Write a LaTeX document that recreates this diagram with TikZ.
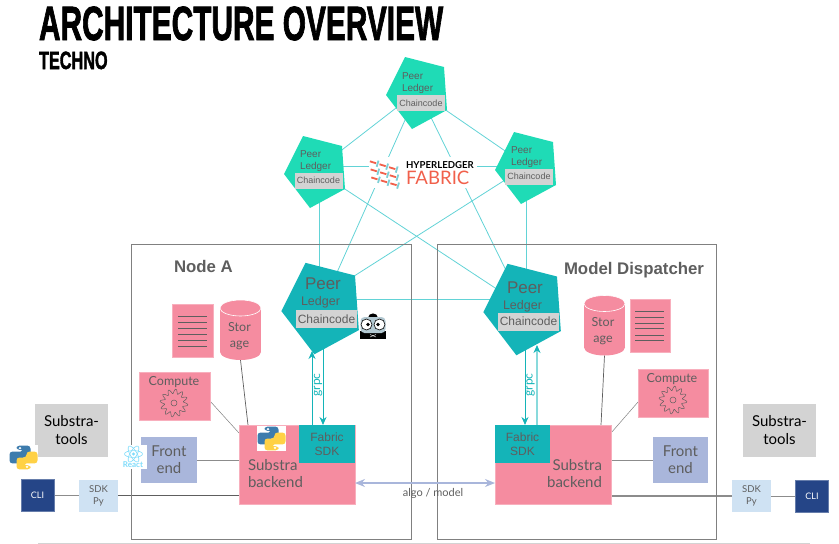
\documentclass[tikz,border=0pt]{standalone}
\usepackage{fontspec}
\setmainfont{Lato}
\newfontfamily\arialfont{Liberation Sans}
\newfontfamily\titlefont[FakeBold=2]{Liberation Sans}
\usepackage{tikz}
\usetikzlibrary{arrows.meta,backgrounds}
\definecolor{peerlight}{HTML}{1FDBB6}
\definecolor{peerdark}{HTML}{14B4B8}
\definecolor{meshline}{HTML}{62D3D6}
\definecolor{pinkbox}{HTML}{F58CA0}
\definecolor{frontblue}{HTML}{A9B6DB}
\definecolor{cliblue}{HTML}{254587}
\definecolor{sdkblue}{HTML}{CFE2F3}
\definecolor{toolgrey}{HTML}{D3D3D3}
\definecolor{inktext}{HTML}{5E5E5E}
\definecolor{pyblue}{HTML}{3D7CAD}
\definecolor{pyyellow}{HTML}{FFD145}
\definecolor{reactblue}{HTML}{7FDCFB}
\definecolor{fabricred}{HTML}{F1604B}
\definecolor{fabricteal}{HTML}{7CCFD6}
\tikzset{
  anybox/.style={inner sep=0pt,outer sep=0pt,align=center,text=inktext},
  frame/.style={anybox,draw=gray,line width=1pt},
  pink/.style={anybox,fill=pinkbox,draw=pinkbox!70!white,line width=.5pt},
  front/.style={anybox,fill=frontblue,font=\fontsize{15}{17}\selectfont,minimum width=56,minimum height=46},
  tools/.style={anybox,fill=toolgrey,text=black,font=\fontsize{15}{18}\selectfont,minimum width=73,minimum height=53},
  sdkpy/.style={anybox,fill=sdkblue,font=\fontsize{9.5}{12}\selectfont,minimum width=39,minimum height=32},
  cli/.style={anybox,fill=cliblue,draw=cliblue!70!white,line width=.5pt,text=white,font=\fontsize{9}{11}\selectfont,minimum width=33,minimum height=32},
  fabricsdk/.style={anybox,fill=peerdark,font=\arialfont\fontsize{12}{14}\selectfont,minimum width=56,minimum height=38},
  chain/.style={anybox,fill=toolgrey,line width=.5pt,font=\arialfont},
  chainsmall/.style={chain,font=\arialfont\fontsize{9}{10}\selectfont,minimum width=48,minimum height=16},
  chainbig/.style={chain,font=\arialfont\fontsize{12}{14}\selectfont,minimum width=61,minimum height=18},
  peertext/.style={anybox,anchor=base west,font=\arialfont\fontsize{10}{12}\selectfont},
  peerhead/.style={anybox,anchor=base west,font=\arialfont\fontsize{17}{20}\selectfont},
  ledgerhead/.style={anybox,anchor=base west,font=\arialfont\fontsize{12.5}{14}\selectfont},
  nodetitle/.style={anybox,anchor=base west,font=\arialfont\bfseries\fontsize{16.8}{18}\selectfont},
  storetext/.style={anybox,font=\fontsize{12.5}{15.5}\selectfont},
  mesh/.style={meshline,line width=.8pt},
  wire/.style={gray!90,line width=.9pt},
  thinwire/.style={gray,line width=.5pt},
  grpcline/.style={peerdark,line width=1pt,-{Stealth[length=8pt,width=7pt]}},
  peerpoly/.pic={
    \fill[#1] (-13,-34) -- (26,-24) -- (29,19) -- (-6,38) -- (-32,4) -- cycle;
  },
  storage/.pic={
    \fill[pinkbox] (-20.5,-22) rectangle (20.5,22);
    \fill[pinkbox] (0,22) ellipse [x radius=20.5,y radius=8];
    \fill[pinkbox,draw=white,line width=.6pt] (0,-22) ellipse [x radius=20.5,y radius=8];
  },
  gear/.pic={
    \draw[inktext,line width=.5pt] plot[domain=0:360,samples=121,smooth] (\x:{11.7+2.3*sin(12*\x)});
    \draw[inktext,line width=.5pt] (0,0) circle (3);
  },
  pylogo/.pic={
    \fill[white] (-14.5,-12.5) rectangle (14.5,12.5);
    \begin{scope}[yscale=.85]
      \fill[pyblue,rounded corners=3] (-7,-14) -- (7,-14) -- (7,0) -- (-3,0) -- (-3,7) -- (-14,7) -- (-14,-7) -- (0,-7) -- (0,-9) -- (-7,-9) -- cycle;
      \fill[white] (-3.5,-11) circle (1.4);
      \begin{scope}[rotate=180]
        \fill[pyyellow,rounded corners=3] (-7,-14) -- (7,-14) -- (7,0) -- (-3,0) -- (-3,7) -- (-14,7) -- (-14,-7) -- (0,-7) -- (0,-9) -- (-7,-9) -- cycle;
        \fill[white] (-3.5,-11) circle (1.4);
      \end{scope}
    \end{scope}
  },
  reactlogo/.pic={
    \fill[white] (-13.5,-9) rectangle (13.5,15);
    \foreach \a in {0,60,120} \draw[reactblue,line width=.6pt,rotate=\a] (0,0) ellipse [x radius=9,y radius=3.4];
    \fill[reactblue] (0,0) circle (1.6);
  },
  gopher/.pic={
    \fill[black] (-5,-8) .. controls (-5,-14) and (5,-14) .. (5,-8) -- cycle;
    \fill[black] (-13,5) rectangle (13,12.5);
    \fill[black!55!cyan!35!white,rounded corners=4] (-12.5,-9) rectangle (12.5,7);
    \foreach \s in {-1,1} {
      \fill[white,draw=black,line width=.6pt] (\s*6.5,-1.5) circle (5.5);
      \fill[black] (\s*5,-1.5) circle (1.8);
    }
    \draw[white,line width=.4pt] (-3,8.5) -- (3,11) (-3,11) -- (3,8.5);
  },
  fabricweave/.pic={
    \begin{scope}[rotate=-17,line width=1.8pt]
      \foreach \i in {-1,0,1} \foreach \j in {-1,0,1} {
        \draw[fabricteal] (\i*10+4+\j*3,\j*7.5-3.2) -- ++(0,6.4);
        \draw[fabricred] (\i*10-4+\j*3,\j*7.5) -- ++(6.5,0);
      }
    \end{scope}
  }
}
\begin{document}
\begin{tikzpicture}[x=1pt,y=-1pt]
\useasboundingbox (0,0) rectangle (839,544);
\node[anybox,text=black,anchor=base west,xscale=.622,font=\titlefont\bfseries\fontsize{48}{50}\selectfont] (archTitle) at (39,40) {ARCHITECTURE OVERVIEW};
\node[anybox,text=black,anchor=base west,xscale=.65,font=\titlefont\bfseries\fontsize{25}{28}\selectfont] (technoTitle) at (39,69) {TECHNO};
\draw[toolgrey] (38,543.5) -- (810,543.5);

\node[frame,minimum width=280,minimum height=295] (nodeA) at (271,391.5) {};
\node[frame,minimum width=279,minimum height=295] (dispatcher) at (576.5,391.5) {};
\node[nodetitle] (nodeALabel) at (174,272) {Node A};
\node[nodetitle] (dispatcherLabel) at (564,274) {Model Dispatcher};

\coordinate (peerT) at (418,91);
\coordinate (peerL) at (316,170);
\coordinate (peerR) at (527,166);
\coordinate (peerA) at (322,306);
\coordinate (peerB) at (524,307);
\pic at (peerT) {peerpoly=peerlight};
\pic at (peerL) {peerpoly=peerlight};
\pic at (peerR) {peerpoly=peerlight};
\pic[scale=1.27] at (peerA) {peerpoly=peerdark};
\pic[scale=1.27] at (peerB) {peerpoly=peerdark};

\foreach \nm/\cx/\cy/\px/\py in {peerTtxt/421/103/402/79, peerLtxt/318.5/180.5/300/157, peerRtxt/529/176.5/511/153} {
  \node[peertext] (\nm P) at (\px,\py) {Peer};
  \node[peertext] (\nm L) at (\px,\py+12) {Ledger};
  \node[chainsmall] (\nm C) at (\cx,\cy) {Chaincode};
}
\foreach \nm/\cx/\cy/\px/\py in {peerAtxt/326.5/319/305/289, peerBtxt/528.5/321.5/507/293} {
  \node[peerhead] (\nm P) at (\px,\py) {Peer};
  \node[ledgerhead] (\nm L) at (\px-4,\py+16) {Ledger};
  \node[chainbig] (\nm C) at (\cx,\cy) {Chaincode};
}

\node[pink,minimum width=41,minimum height=53] (docL) at (192.5,330.5) {};
\node[pink,minimum width=40,minimum height=53] (docR) at (650,325.5) {};
\foreach \y in {316,322,328,334,340,346} \draw[inktext,line width=.7pt] (178,\y) -- (207,\y);
\foreach \y in {311,317,323,328,335,340} \draw[inktext,line width=.7pt] (635,\y) -- (664,\y);
\coordinate (storeL) at (240.5,330);
\coordinate (storeR) at (604.5,325.5);
\pic at (storeL) {storage};
\pic at (storeR) {storage};
\node[storetext] (storeLtxt) at (239.5,336) {Stor\\age};
\node[storetext] (storeRtxt) at (603,331) {Stor\\age};

\node[pink,minimum width=71,minimum height=48] (computeL) at (174.5,396) {};
\node[pink,minimum width=70,minimum height=48] (computeR) at (673,393) {};
\node[anybox,font=\fontsize{12.5}{14}\selectfont] (computeLtxt) at (174,382) {Compute};
\node[anybox,font=\fontsize{12.5}{14}\selectfont] (computeRtxt) at (672,379) {Compute};
\pic at (174,403) {gear};
\pic at (673,400) {gear};

\node[pink,minimum width=116,minimum height=79] (backendL) at (297,464.5) {};
\node[pink,minimum width=116,minimum height=79] (backendR) at (553,464.5) {};
\node[fabricsdk] (fabricL) at (327,444) {Fabric\\SDK};
\node[fabricsdk,minimum width=55] (fabricR) at (522.5,444) {Fabric\\SDK};
\node[anybox,anchor=north west,align=left,font=\fontsize{15}{17}\selectfont] (backendLtxt) at (248,459.5) {Substra\\backend};
\node[anybox,anchor=north east,align=right,font=\fontsize{15}{17}\selectfont] (backendRtxt) at (602,459.5) {Substra\\backend};

\node[front] (frontL) at (169,460) {Front\\end};
\node[front,minimum width=55] (frontR) at (680.5,460) {Front\\end};
\node[tools] (toolsL) at (71.5,430.5) {Substra-\\tools};
\node[tools] (toolsR) at (779.5,430.5) {Substra-\\tools};
\node[sdkpy] (sdkL) at (98.5,495.5) {SDK\\Py};
\node[sdkpy] (sdkR) at (751.5,496) {SDK\\Py};
\node[cli] (cliL) at (37.5,495.5) {CLI};
\node[cli] (cliR) at (812,496) {CLI};

\coordinate (grpcUpA) at (312,351);
\coordinate (grpcDownA) at (323,347);
\coordinate (grpcDownB) at (525,348);
\coordinate (grpcUpB) at (537,345);
\draw[grpcline] (fabricL.north -| grpcUpA) -- (grpcUpA);
\draw[grpcline] (grpcDownA) -- (fabricL.north -| grpcDownA);
\draw[grpcline] (grpcDownB) -- (fabricR.north -| grpcDownB);
\draw[peerdark!50!white,line width=1.4pt,-{Stealth[length=8pt,width=7pt,color=peerdark]}] (fabricR.north -| grpcUpB) -- (grpcUpB);
\node[anybox,text=peerdark,rotate=90,font=\fontsize{12}{14}\selectfont] (grpcL) at (318,385) {grpc};
\node[anybox,text=peerdark,rotate=90,font=\fontsize{12}{14}\selectfont] (grpcR) at (530.5,385) {grpc};

\draw[frontblue,line width=1.4pt,{Stealth[length=10pt,width=8pt]}-{Stealth[length=10pt,width=8pt]}] ([yshift=-18.5pt]backendL.east) -- ([yshift=-18.5pt]backendR.west);
\node[anybox,font=\fontsize{11}{13}\selectfont] (algoLabel) at (433,493) {algo / model};

\begin{scope}[on background layer]
  \foreach \a/\b in {peerT/peerL,peerT/peerR,peerT/peerA,peerT/peerB,peerL/peerB} \draw[mesh] (\a) -- (\b);
  \draw[mesh] (peerR) -- ([yshift=9.5pt]peerA);
  \draw[mesh] ([yshift=4pt]peerL) -- (peerR);
  \draw[mesh] ([xshift=3pt]peerL) -- ([xshift=-3pt]peerA);
  \draw[mesh] ([xshift=-1pt]peerR) -- ([xshift=2pt]peerB);
  \draw[mesh] ([yshift=7pt]peerA) -- ([yshift=8pt]peerB);
  \draw[wire] (frontL) -- (frontL -| backendL.west);
  \draw[wire] (frontR) -- (frontR -| backendR.east);
  \draw[wire] (cliL) -- (sdkL);
  \draw[wire] (cliR) -- (sdkR);
  \draw[inktext,line width=.9pt] (sdkL.east) -- (sdkL.east -| backendL.west);
  \draw[wire,line width=1.2pt] (sdkR.west) -- (sdkR.west -| backendR.east);
  \draw[thinwire] ([yshift=-5pt]computeL.east) -- ([yshift=-8pt]backendL.north west);
  \draw[thinwire] ([yshift=-9pt]computeR.west) -- ([yshift=-8pt]backendR.north east);
  \draw[inktext,line width=.7pt] ([yshift=-30pt]storeL) -- ([xshift=9pt]backendL.north west);
  \draw[inktext,line width=.7pt] ([yshift=-30pt]storeR) -- ([xshift=-10pt]backendR.north east);
\end{scope}

\pic at (23.5,457.5) {pylogo};
\pic at (271.5,438.5) {pylogo};
\pic at (133.5,454) {reactlogo};
\node[anybox,text=reactblue,font=\bfseries\fontsize{8}{9}\selectfont] (reactLabel) at (133,465) {React};
\pic at (373,326) {gopher};

\node[fill=white,inner sep=0pt,minimum width=108,minimum height=31] (fabricBg) at (423,172) {};
\pic at (384,173.5) {fabricweave};
\node[anybox,text=black,anchor=base west,font=\bfseries\fontsize{9.6}{10}\selectfont] (hyperLabel) at (406,168) {HYPERLEDGER};
\node[anybox,text=fabricred,anchor=base west,font=\fontsize{18.6}{19}\selectfont] (fabricLabel) at (406,184) {FABRIC};
\end{tikzpicture}
\end{document}
